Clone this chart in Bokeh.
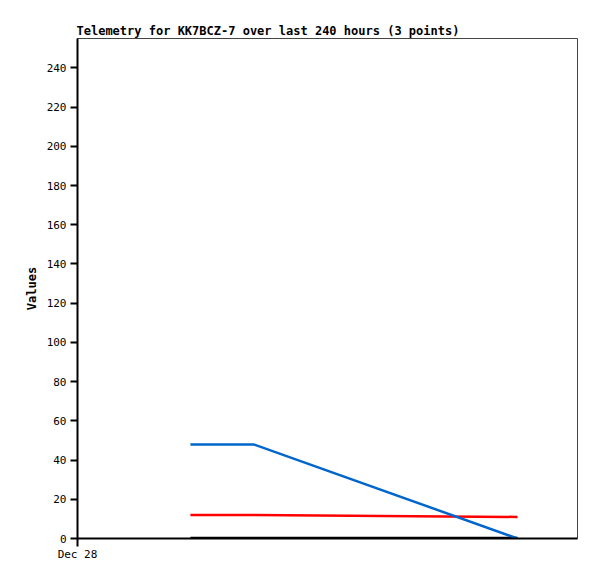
from bokeh.plotting import figure
from bokeh.models import Range1d, FixedTicker
from bokeh.embed import file_html
from bokeh.resources import INLINE

# hours since Dec 28 00:00
hours = [54.2, 84.5, 211.2]
blue_vals = [48, 48, 0]
red_vals = [12, 12, 11]
black_vals = [0.3, 0.3, 0.3]
y_ticks = list(range(0, 241, 20))
x_ticks = [0]
x_tick_labels = {0: "Dec 28"}

FONT = "DejaVu Sans Mono"

p = figure(width=589, height=571, output_backend="svg", toolbar_location=None,
           x_range=Range1d(0, 240), y_range=Range1d(0, 255),
           min_border_left=77, min_border_right=12, min_border_top=38, min_border_bottom=33,
           title="Telemetry for KK7BCZ-7 over last 240 hours (3 points)")

p.title.text_font = FONT
p.title.text_font_size = "12px"
p.title.text_font_style = "bold"
p.title.text_color = "black"
p.title.offset = -1
p.title.standoff = 2

p.outline_line_color = "#444444"
p.outline_line_width = 1
p.xgrid.visible = False
p.ygrid.visible = False

p.yaxis.ticker = FixedTicker(ticks=y_ticks)
p.yaxis.minor_tick_line_color = None
p.yaxis.major_tick_out = 7
p.yaxis.major_tick_in = 0
p.yaxis.major_label_standoff = 4
p.yaxis.axis_label = "Values"
p.yaxis.axis_label_text_font = FONT
p.yaxis.axis_label_text_font_style = "bold"
p.yaxis.axis_label_text_font_size = "12px"
p.yaxis.axis_label_text_color = "black"
p.yaxis.axis_label_standoff = 5

p.xaxis.ticker = FixedTicker(ticks=x_ticks)
p.xaxis.major_label_overrides = x_tick_labels
p.xaxis.minor_tick_line_color = None
p.xaxis.major_tick_out = 8
p.xaxis.major_tick_in = 0
p.xaxis.major_label_standoff = 1

for ax in (p.xaxis[0], p.yaxis[0]):
    ax.major_label_text_font = FONT
    ax.major_label_text_font_size = "11px"
    ax.major_label_text_color = "black"
    ax.axis_line_color = "black"
    ax.axis_line_width = 2
    ax.major_tick_line_color = "black"
    ax.major_tick_line_width = 2

p.line(hours, black_vals, line_color="black", line_width=2.5)
p.line(hours, red_vals, line_color="#ff0000", line_width=2.5)
p.line(hours, blue_vals, line_color="#0066cc", line_width=2.5)

open("out.html", "w").write(file_html(p, INLINE))
